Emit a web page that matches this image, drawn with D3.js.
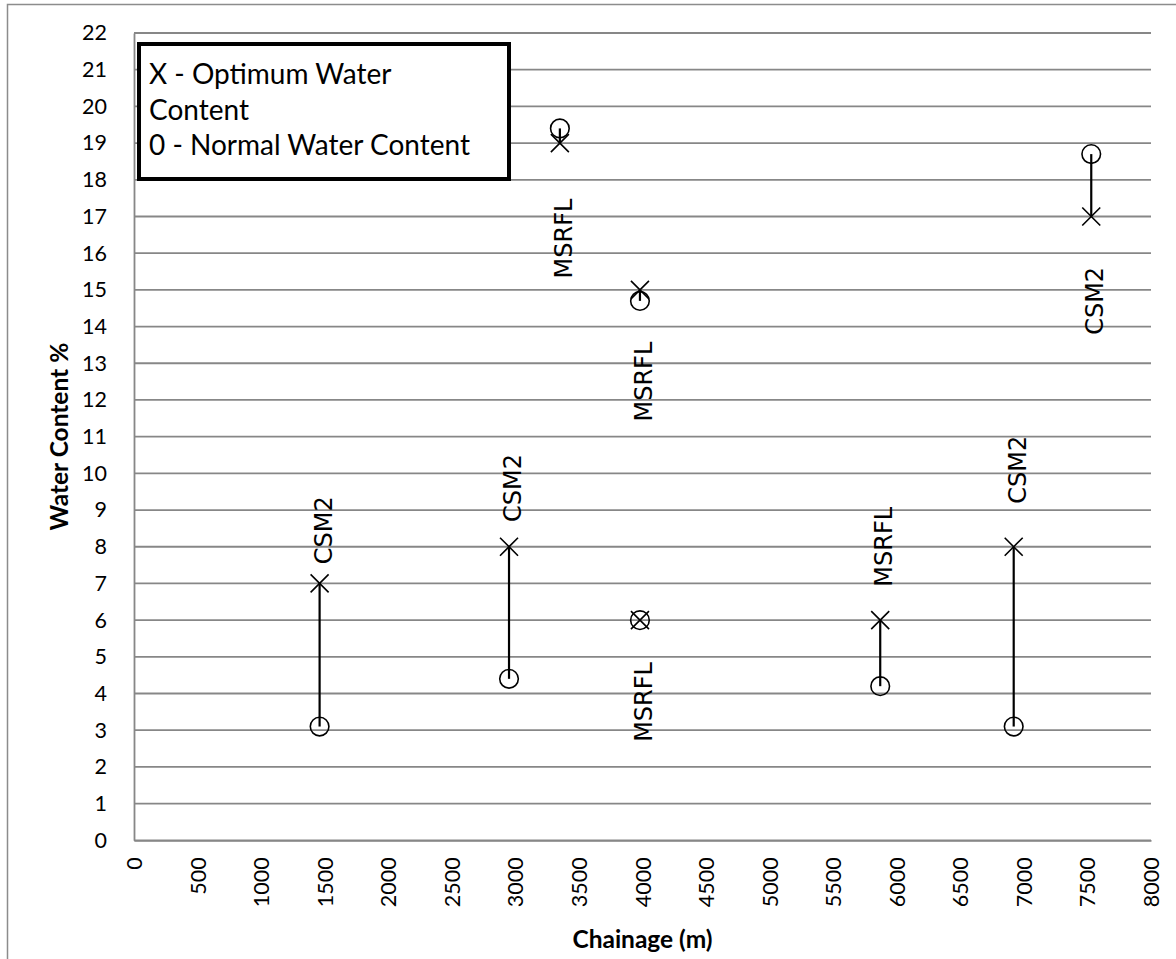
<!DOCTYPE html>
<html>
<head>
<meta charset="utf-8">
<script src="https://cdn.jsdelivr.net/npm/d3@7/dist/d3.min.js"></script>
<style>
  body { margin: 0; background: #fff; }
  svg { display: block; }
</style>
</head>
<body>
<svg id="chart" width="1176" height="959"></svg>
<script>
// chainage (m) of each sample
var chainage = [1460, 2950, 3350, 3980, 3980, 5870, 6920, 7530]
// optimum water content (X markers)
var optimum = [7, 8, 19, 15, 6, 6, 8, 17]
// normal water content (O markers)
var normal = [3.1, 4.4, 19.4, 14.7, 6, 4.2, 3.1, 18.7]
// soil type labels and where they sit (water content %)
var soilType = ["CSM2", "CSM2", "MSRFL", "MSRFL", "MSRFL", "MSRFL", "CSM2", "CSM2"]
var labelAt = [8.45, 9.6, 16.4, 12.5, 3.77, 8.0, 10.1, 14.7]

var xTicks = d3.range(0, 8001, 500)
var yTicks = d3.range(0, 23, 1)
var legendLines = ["X - Optimum Water", "Content", "0 - Normal Water Content"]

var dims = {
    width: 1176,
    height: 959,
    margin: { top: 33, bottom: 118.7, left: 134, right: 25 }
}

var svg = d3.select("#chart")

// outer frame of the chart
svg.append("rect")
    .attr("x", 7.5)
    .attr("y", 4.5)
    .attr("width", 1200)
    .attr("height", 1000)
    .attr("fill", "white")
    .attr("stroke", "#8c8c8c")
    .attr("stroke-width", 1.5)

var xScale = d3.scaleLinear()
    .domain([0, 8000])
    .range([dims.margin.left, dims.width - dims.margin.right])

var yScale = d3.scaleLinear()
    .domain([0, 22])
    .range([dims.height - dims.margin.bottom, dims.margin.top])

//gridlines
svg.append("g")
    .selectAll("line")
    .data(yTicks)
    .enter()
    .append("line")
    .attr("x1", xScale(0))
    .attr("x2", xScale(8000))
    .attr("y1", d => yScale(d))
    .attr("y2", d => yScale(d))
    .attr("stroke", "#878787")
    .attr("stroke-width", 1.8)

//y axis
var yAxisGen = d3.axisLeft(yScale)
    .tickValues(yTicks)
    .tickSize(0)
    .tickPadding(27)
var yAxis = svg.append("g")
    .attr("transform", `translate(${xScale(0)},0)`)
    .call(yAxisGen)
yAxis.select(".domain").attr("stroke", "#878787").attr("stroke-width", 1.8)
yAxis.selectAll("text")
    .attr("font-family", "Lato, sans-serif")
    .attr("font-size", 21.5)
    .attr("fill", "black")

//x axis
var xAxisGen = d3.axisBottom(xScale)
    .tickValues(xTicks)
    .tickFormat(d3.format("d"))
    .tickSize(0)
var xAxis = svg.append("g")
    .attr("transform", `translate(0,${yScale(0)})`)
    .call(xAxisGen)
xAxis.select(".domain").attr("stroke", "#878787").attr("stroke-width", 1.8)
xAxis.selectAll("text")
    .attr("font-family", "Lato, sans-serif")
    .attr("font-size", 21.5)
    .attr("fill", "black")
    .attr("text-anchor", "end")
    .attr("transform", "rotate(-90)")
    .attr("x", -17)
    .attr("y", 0)
    .attr("dy", "0.35em")

//axis titles
svg.append("text")
    .attr("x", (xScale(0) + xScale(8000)) / 2)
    .attr("y", 948)
    .attr("text-anchor", "middle")
    .attr("font-family", "Lato, sans-serif")
    .attr("font-weight", "bold")
    .attr("font-size", 24.5)
    .text("Chainage (m)")

svg.append("text")
    .attr("transform", `translate(68,${(yScale(0) + yScale(22)) / 2}) rotate(-90)`)
    .attr("text-anchor", "middle")
    .attr("font-family", "Lato, sans-serif")
    .attr("font-weight", "bold")
    .attr("font-size", 24.5)
    .text("Water Content %")

var points = chainage.map((c, i) => ({
    x: c, opt: optimum[i], norm: normal[i], soil: soilType[i], lab: labelAt[i]
}))

// high-low lines between the two readings
svg.append("g")
    .selectAll("line")
    .data(points)
    .enter()
    .append("line")
    .attr("x1", d => xScale(d.x))
    .attr("x2", d => xScale(d.x))
    .attr("y1", d => yScale(d.opt))
    .attr("y2", d => yScale(d.norm))
    .attr("stroke", "black")
    .attr("stroke-width", 2.2)

// normal water content circles
svg.append("g")
    .selectAll("circle")
    .data(points)
    .enter()
    .append("circle")
    .attr("cx", d => xScale(d.x))
    .attr("cy", d => yScale(d.norm))
    .attr("r", 9.3)
    .attr("fill", "none")
    .attr("stroke", "black")
    .attr("stroke-width", 1.6)

// optimum water content crosses
var s = 9
svg.append("g")
    .selectAll("path")
    .data(points)
    .enter()
    .append("path")
    .attr("d", d => {
        var cx = xScale(d.x), cy = yScale(d.opt)
        return `M${cx - s},${cy - s}L${cx + s},${cy + s}M${cx - s},${cy + s}L${cx + s},${cy - s}`
    })
    .attr("stroke", "black")
    .attr("stroke-width", 1.6)
    .attr("fill", "none")

// soil type labels
svg.append("g")
    .selectAll("text")
    .data(points)
    .enter()
    .append("text")
    .attr("transform", d => `translate(${xScale(d.x) + 12},${yScale(d.lab)}) rotate(-90)`)
    .attr("text-anchor", "middle")
    .attr("font-family", "'DejaVu Sans', sans-serif")
    .attr("font-size", 24)
    .text(d => d.soil)

// legend text box
var legend = svg.append("g")
legend.append("rect")
    .attr("x", 139)
    .attr("y", 44)
    .attr("width", 370)
    .attr("height", 135)
    .attr("fill", "white")
    .attr("stroke", "black")
    .attr("stroke-width", 4)
legend.selectAll("text")
    .data(legendLines)
    .enter()
    .append("text")
    .attr("x", 149)
    .attr("y", (d, i) => 84 + i * 35.5)
    .attr("font-family", "Lato, sans-serif")
    .attr("font-size", 28)
    .text(d => d)
</script>
</body>
</html>
